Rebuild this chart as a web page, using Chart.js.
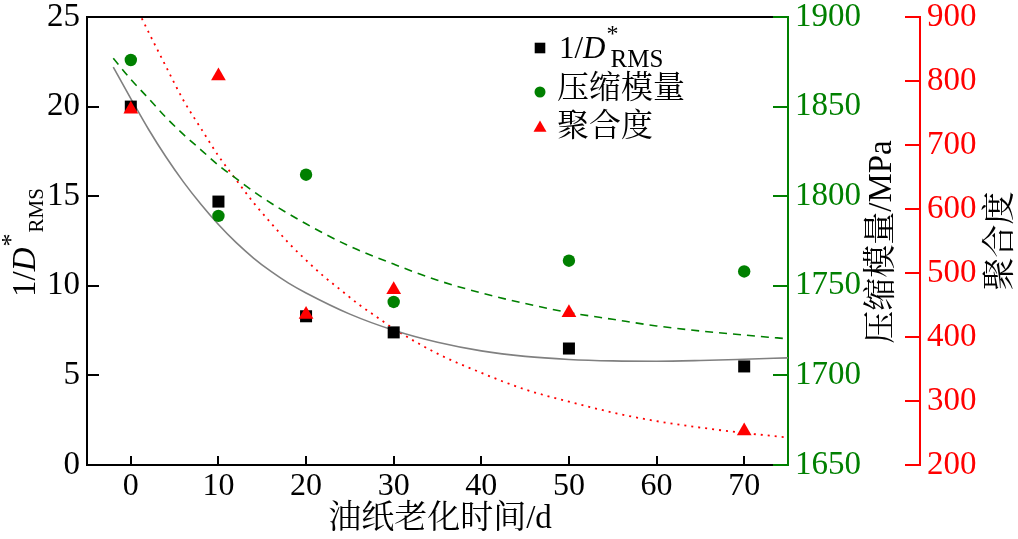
<!DOCTYPE html>
<html>
<head>
<meta charset="utf-8">
<script src="https://cdn.jsdelivr.net/npm/chart.js@4/dist/chart.umd.min.js"></script>
<style>
    html, body { margin: 0; padding: 0; background: #fff; }
    #wrap { width: 1018px; height: 539px; }
</style>
</head>
<body>
<div id="wrap"><canvas id="aging-chart" width="1018" height="539"></canvas></div>
<script>
// Measured points
const days = [0, 10, 20, 30, 50, 70];
const invDrms = [20.0, 14.7, 8.3, 7.4, 6.5, 5.5];
const modulus = [1876, 1789, 1812, 1741, 1764, 1758];
const polymerization = [756, 808, 435, 474, 438, 253];

// Fitted curves
const fitDrmsX = [-2, 0, 2, 4, 6, 8, 10, 12, 14, 16, 18, 20, 25, 30, 35, 40, 45, 50, 55, 60, 65, 70, 75];
const fitDrmsY = [22.2, 20.45, 18.75, 17.2, 15.8, 14.55, 13.42, 12.42, 11.55, 10.8, 10.15, 9.6, 8.42, 7.52, 6.85, 6.37, 6.06, 5.89, 5.81, 5.79, 5.83, 5.9, 5.98];
const fitModX = [-2, 0, 2, 4, 6, 8, 10, 12, 15, 20, 25, 30, 35, 40, 45, 50, 55, 60, 65, 70, 75];
const fitModY = [1877, 1865.2, 1854.7, 1844, 1834.5, 1825.9, 1817.3, 1809.9, 1799.3, 1784.6, 1772, 1762.1, 1753.1, 1746, 1740.1, 1735.1, 1731.3, 1727.6, 1724.8, 1722.5, 1720.4];
const fitDpX = [1.25, 2, 4, 6, 8, 10, 12, 14, 16, 18, 20, 22, 24, 26, 28, 30, 35, 40, 45, 50, 55, 60, 65, 70, 75];
const fitDpY = [898, 877, 823, 770, 726, 683, 646, 610, 578, 547, 520, 495, 473, 451, 432, 413, 374, 344, 318, 299, 282, 268.5, 258.5, 250, 243];

// Tick labels
const xTicks = [0, 10, 20, 30, 40, 50, 60, 70];
const drmsTicks = [0, 5, 10, 15, 20, 25];
const modTicks = [1650, 1700, 1750, 1800, 1850, 1900];
const dpTicks = [200, 300, 400, 500, 600, 700, 800, 900];

const GREEN = '#008000';
const RED = '#ff0000';
const GRAY = '#808080';
const SERIF = '"Liberation Serif", "Noto Serif CJK SC", "Noto Sans CJK SC", serif';

function pts(xs, ys) {
    return xs.map((x, i) => ({ x: x, y: ys[i] }));
}

function fixedTicks(values) {
    return function(scale) {
        scale.ticks = values.map(v => ({ value: v }));
    };
}

// fixed axis size, no extra padding from the labels
function fixSize(prop, size) {
    return function(scale) {
        scale[prop] = size;
        scale.paddingTop = 0;
        scale.paddingBottom = 0;
        scale.paddingLeft = 0;
        scale.paddingRight = 0;
    };
}

// draw text made of several runs (italic, sub, sup)
function drawRich(ctx, parts, x, y, angle) {
    ctx.save();
    ctx.translate(x, y);
    ctx.rotate(angle);
    ctx.textAlign = 'left';
    ctx.textBaseline = 'alphabetic';
    ctx.fillStyle = '#000';
    let cx = 0;
    parts.forEach(p => {
        ctx.font = p.font;
        ctx.fillText(p.text, cx + (p.dx || 0), p.dy || 0);
        if (!p.noAdvance) cx += ctx.measureText(p.text).width + (p.dx || 0);
    });
    ctx.restore();
}

function drawText(ctx, text, x, y, angle, font, color) {
    ctx.save();
    ctx.translate(x, y);
    ctx.rotate(angle);
    ctx.font = font;
    ctx.fillStyle = color || '#000';
    ctx.textAlign = 'center';
    ctx.textBaseline = 'middle';
    ctx.fillText(text, 0, 0);
    ctx.restore();
}

// inward tick marks, frame, titles and legend
const decorPlugin = {
    id: 'decor',
    afterDraw(chart) {
        const ctx = chart.ctx;
        const area = chart.chartArea;
        const s = chart.scales;

        ctx.save();
        ctx.lineWidth = 2;
        ctx.strokeStyle = '#000';
        ctx.beginPath();
        ctx.moveTo(area.left - 1, area.top);
        ctx.lineTo(area.right, area.top);
        ctx.stroke();

        function ticks(scale, values, x0, len, color, horizontal) {
            ctx.strokeStyle = color;
            ctx.beginPath();
            values.forEach(v => {
                const p = Math.round(scale.getPixelForValue(v));
                if (horizontal) {
                    ctx.moveTo(p, x0);
                    ctx.lineTo(p, x0 - len);
                } else {
                    ctx.moveTo(x0, p);
                    ctx.lineTo(x0 + len, p);
                }
            });
            ctx.stroke();
        }
        ticks(s.x, xTicks, area.bottom, 9, '#000', true);
        ticks(s.y, drmsTicks, area.left, 12, '#000', false);
        ticks(s.y1, modTicks, area.right, -15, GREEN, false);
        ticks(s.y2, dpTicks, s.y2.left, -15, RED, false);
        ctx.restore();

        // axis titles
        drawRich(ctx, [
            { text: '1/', font: '33px ' + SERIF },
            { text: 'D', font: 'italic 33px ' + SERIF },
            { text: '*', font: '26px ' + SERIF, dy: -16, dx: 1 },
            { text: 'RMS', font: '21px ' + SERIF, dy: 8, dx: 1 }
        ], 35, 297, -Math.PI / 2);
        drawText(ctx, '油纸老化时间/d', 440, 519, 0, '33px ' + SERIF);
        drawText(ctx, '压缩模量/MPa', 882, 242, -Math.PI / 2, '33px ' + SERIF);
        drawText(ctx, '聚合度', 1001, 241, -Math.PI / 2, '33px ' + SERIF);

        // legend
        const lx = 540;
        const markers = [
            { style: 'rect', color: '#000', y: 48, r: 7.5 },
            { style: 'circle', color: GREEN, y: 92, r: 5.5 },
            { style: 'triangle', color: RED, y: 128, r: 7.5 }
        ];
        markers.forEach(m => {
            ctx.save();
            ctx.fillStyle = m.color;
            ctx.strokeStyle = m.color;
            Chart.helpers.drawPoint(ctx, { pointStyle: m.style, radius: m.r, rotation: 0, borderWidth: 0 }, lx, m.y);
            ctx.restore();
        });
        drawRich(ctx, [
            { text: '1/', font: '31px ' + SERIF },
            { text: 'D', font: 'italic 31px ' + SERIF },
            { text: '*', font: '24px ' + SERIF, dy: -17, dx: 1, noAdvance: true },
            { text: 'RMS', font: '25px ' + SERIF, dy: 9, dx: 5 }
        ], 559, 58, 0);
        ctx.save();
        ctx.font = '32px ' + SERIF;
        ctx.fillStyle = '#000';
        ctx.textBaseline = 'middle';
        ctx.fillText('压缩模量', 557, 90);
        ctx.fillText('聚合度', 557, 128);
        ctx.restore();
    }
};

const tickFont = { family: SERIF, size: 33, lineHeight: 1 };
const plainLabel = v => String(v);

const ctx = document.getElementById('aging-chart').getContext('2d');
new Chart(ctx, {
    type: 'scatter',
    data: {
        datasets: [
            {
                label: '1/D*RMS',
                data: pts(days, invDrms),
                yAxisID: 'y',
                pointStyle: 'rect',
                pointRadius: 8.5,
                backgroundColor: '#000',
                borderColor: '#000',
                borderWidth: 0,
                order: 2
            },
            {
                label: '压缩模量',
                data: pts(days, modulus),
                yAxisID: 'y1',
                pointStyle: 'circle',
                pointRadius: 6.2,
                backgroundColor: GREEN,
                borderColor: GREEN,
                borderWidth: 0,
                order: 1
            },
            {
                label: '聚合度',
                data: pts(days, polymerization),
                yAxisID: 'y2',
                pointStyle: 'triangle',
                pointRadius: 8.5,
                backgroundColor: RED,
                borderColor: RED,
                borderWidth: 0,
                order: 0
            },
            {
                label: 'fit-drms',
                data: pts(fitDrmsX, fitDrmsY),
                yAxisID: 'y',
                showLine: true,
                pointRadius: 0,
                borderColor: GRAY,
                borderWidth: 1.6,
                cubicInterpolationMode: 'monotone',
                order: 3
            },
            {
                label: 'fit-mod',
                data: pts(fitModX, fitModY),
                yAxisID: 'y1',
                showLine: true,
                pointRadius: 0,
                borderColor: GREEN,
                borderWidth: 1.6,
                borderDash: [8, 6],
                cubicInterpolationMode: 'monotone',
                order: 3
            },
            {
                label: 'fit-dp',
                data: pts(fitDpX, fitDpY),
                yAxisID: 'y2',
                showLine: true,
                pointRadius: 0,
                borderColor: RED,
                borderWidth: 1.8,
                borderDash: [2, 5],
                cubicInterpolationMode: 'monotone',
                order: 3
            }
        ]
    },
    options: {
        responsive: false,
        animation: false,
        events: [],
        layout: { padding: { top: 17, left: 0, right: 0, bottom: 0 } },
        plugins: {
            legend: { display: false },
            tooltip: { enabled: false }
        },
        scales: {
            x: {
                type: 'linear',
                min: -5,
                max: 75,
                afterBuildTicks: fixedTicks(xTicks),
                afterFit: fixSize('height', 74),
                grid: { display: false, drawTicks: false },
                border: { display: true, color: '#000', width: 2 },
                ticks: { color: '#000', font: { family: SERIF, size: 32, lineHeight: 1.2 }, padding: 2, maxRotation: 0, callback: plainLabel }
            },
            y: {
                position: 'left',
                min: 0,
                max: 25,
                afterBuildTicks: fixedTicks(drmsTicks),
                afterFit: fixSize('width', 87),
                grid: { display: false, drawTicks: false },
                border: { display: true, color: '#000', width: 2 },
                ticks: { color: '#000', font: tickFont, padding: 7, callback: plainLabel }
            },
            y1: {
                position: 'right',
                min: 1650,
                max: 1900,
                afterBuildTicks: fixedTicks(modTicks),
                afterFit: fixSize('width', 132),
                grid: { display: false, drawTicks: false },
                border: { display: true, color: GREEN, width: 2 },
                ticks: { color: GREEN, font: tickFont, padding: 7, callback: plainLabel }
            },
            y2: {
                position: 'right',
                min: 200,
                max: 900,
                afterBuildTicks: fixedTicks(dpTicks),
                afterFit: fixSize('width', 98),
                grid: { display: false, drawTicks: false },
                border: { display: true, color: RED, width: 2 },
                ticks: { color: RED, font: tickFont, padding: 7, callback: plainLabel }
            }
        }
    },
    plugins: [decorPlugin]
});
</script>
</body>
</html>
